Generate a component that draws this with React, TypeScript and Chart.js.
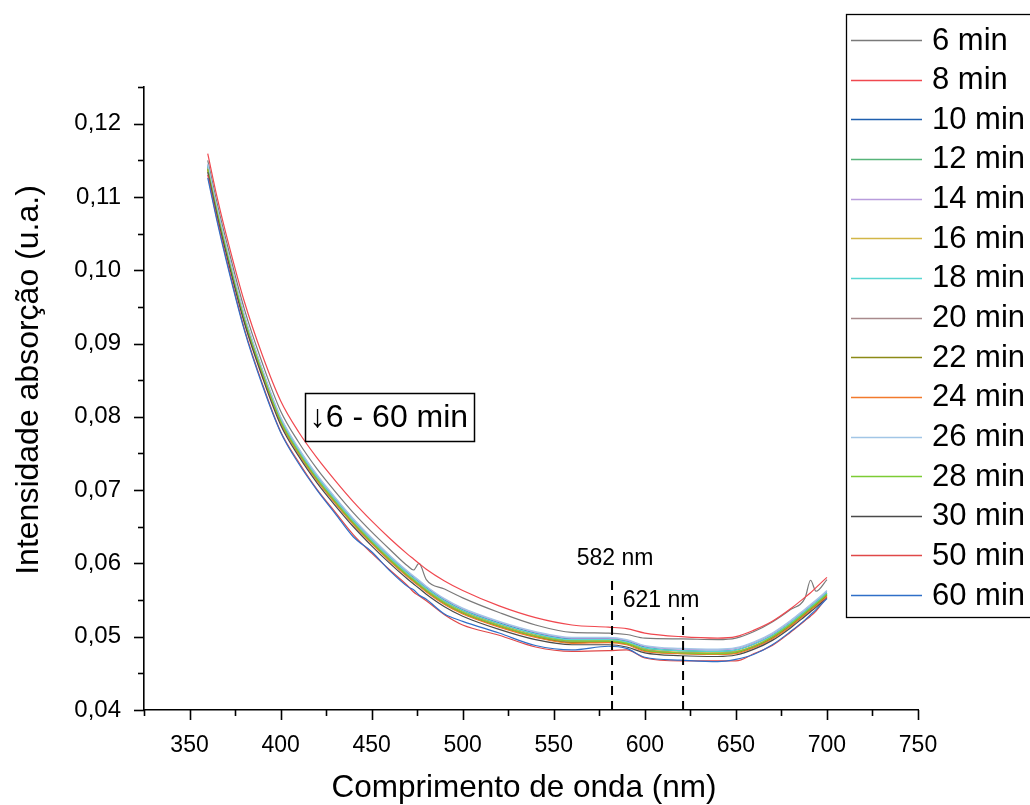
import { useEffect, useRef } from "react";
import { Chart, registerables } from "chart.js";

Chart.register(...registerables);

const FONT = "'Liberation Sans', Arial, Helvetica, sans-serif";

const wavelengths = [360, 365, 370, 380, 390, 400, 410, 420, 430, 440, 450, 460, 470, 473, 476, 480, 490, 500, 520, 540, 560, 580, 590, 600, 620, 640, 650, 660, 670, 680, 688, 691, 694, 700];

const seriesLabels = ["6 min", "8 min", "10 min", "12 min", "14 min", "16 min", "18 min", "20 min", "22 min", "24 min", "26 min", "28 min", "30 min", "50 min", "60 min"];

const seriesColors = ["#7a7a7a", "#f0484f", "#1f5fae", "#57b47a", "#b89cdc", "#d2b647", "#5ad6d2", "#a88a8c", "#8c8a16", "#f27a2c", "#a2c6e6", "#7ccc34", "#4a4a4a", "#e04848", "#2f6fc8"];

const min6 = [.1150, .1093, .1042, .0948, .0873, .0808, .0765, .0729, .0698, .0669, .0643, .0619, .0596, .0591, .0600, .0578, .0565, .0553, .0533, .0516, .0506, .0505, .0503, .0498, .0497, .0496, .0498, .0507, .0520, .0537, .0553, .0577, .0562, .0578];
const min8 = [.1159, .1101, .1050, .0958, .0884, .0822, .0779, .0744, .0713, .0684, .0658, .0634, .0612, .0606, .0600, .0592, .0576, .0563, .0542, .0526, .0516, .0513, .0511, .0505, .0500, .0498, .0500, .0509, .0521, .0538, .0554, .0560, .0567, .0581];
const min10 = [.1143, .1085, .1033, .0938, .0863, .0798, .0755, .0719, .0688, .0659, .0633, .0609, .0587, .0581, .0575, .0567, .0550, .0537, .0519, .0505, .0497, .0497, .0494, .0486, .0481, .0480, .0482, .0490, .0502, .0519, .0535, .0541, .0547, .0560];
const min12 = [.1141, .1083, .1031, .0936, .0861, .0796, .0753, .0717, .0686, .0657, .0631, .0607, .0585, .0579, .0573, .0565, .0548, .0535, .0517, .0503, .0495, .0496, .0493, .0484, .0481, .0479, .0480, .0487, .0499, .0516, .0532, .0538, .0544, .0557];
const min14 = [.1144, .1086, .1034, .0939, .0864, .0799, .0756, .0720, .0689, .0660, .0634, .0610, .0588, .0582, .0576, .0568, .0551, .0538, .0520, .0506, .0498, .0498, .0495, .0487, .0483, .0482, .0484, .0492, .0504, .0521, .0537, .0543, .0549, .0562];
const min16 = [.1140, .1082, .1030, .0935, .0860, .0795, .0752, .0716, .0685, .0656, .0630, .0606, .0584, .0578, .0572, .0564, .0547, .0534, .0516, .0502, .0494, .0495, .0492, .0483, .0479, .0478, .0480, .0488, .0500, .0517, .0533, .0539, .0545, .0558];
const min18 = [.1142, .1084, .1032, .0937, .0862, .0797, .0754, .0718, .0687, .0658, .0632, .0608, .0586, .0580, .0574, .0566, .0549, .0536, .0518, .0504, .0496, .0496, .0493, .0485, .0481, .0480, .0482, .0490, .0502, .0519, .0535, .0541, .0547, .0560];
const min20 = [.1139, .1081, .1029, .0934, .0859, .0794, .0751, .0715, .0684, .0655, .0629, .0605, .0583, .0577, .0571, .0563, .0546, .0533, .0515, .0501, .0493, .0493, .0490, .0482, .0478, .0477, .0479, .0487, .0499, .0516, .0532, .0538, .0544, .0557];
const min22 = [.1138, .1080, .1028, .0933, .0858, .0793, .0750, .0714, .0683, .0654, .0628, .0604, .0582, .0576, .0570, .0562, .0545, .0532, .0514, .0500, .0492, .0493, .0490, .0481, .0477, .0476, .0478, .0486, .0498, .0515, .0531, .0537, .0543, .0556];
const min24 = [.1137, .1079, .1027, .0932, .0857, .0792, .0749, .0713, .0682, .0653, .0627, .0603, .0581, .0575, .0569, .0561, .0544, .0531, .0513, .0499, .0491, .0492, .0489, .0480, .0477, .0476, .0477, .0485, .0497, .0514, .0530, .0536, .0542, .0555];
const min26 = [.1145, .1087, .1035, .0940, .0865, .0800, .0757, .0721, .0690, .0661, .0635, .0611, .0589, .0583, .0577, .0569, .0552, .0539, .0521, .0507, .0499, .0499, .0496, .0488, .0484, .0483, .0485, .0493, .0505, .0522, .0538, .0544, .0550, .0563];
const min28 = [.1138, .1081, .1029, .0934, .0860, .0794, .0751, .0715, .0684, .0655, .0629, .0605, .0583, .0577, .0571, .0563, .0546, .0533, .0515, .0501, .0494, .0494, .0491, .0482, .0478, .0477, .0479, .0487, .0500, .0517, .0533, .0539, .0545, .0558];
const min30 = [.1134, .1076, .1024, .0929, .0854, .0789, .0746, .0710, .0679, .0650, .0624, .0600, .0578, .0572, .0566, .0558, .0541, .0528, .0510, .0496, .0489, .0489, .0486, .0478, .0474, .0473, .0475, .0483, .0495, .0512, .0528, .0534, .0540, .0553];
const min50 = [.1130, .1071, .1018, .0921, .0845, .0780, .0738, .0701, .0670, .0639, .0614, .0591, .0569, .0561, .0556, .0549, .0530, .0516, .0502, .0486, .0480, .0481, .0482, .0471, .0467, .0467, .0467, .0477, .0488, .0506, .0522, .0528, .0535, .0554];
const min60 = [.1126, .1068, .1015, .0919, .0843, .0779, .0736, .0700, .0668, .0636, .0616, .0590, .0568, .0564, .0557, .0551, .0531, .0521, .0505, .0488, .0482, .0487, .0484, .0472, .0468, .0466, .0469, .0476, .0489, .0507, .0523, .0530, .0537, .0552];

const seriesValues = [min6, min8, min10, min12, min14, min16, min18, min20, min22, min24, min26, min28, min30, min50, min60];

const xMajorTicks = [350, 400, 450, 500, 550, 600, 650, 700, 750];
const xMinorTicks = [325, 375, 425, 475, 525, 575, 625, 675, 725];
const yMajorTicks = [0.04, 0.05, 0.06, 0.07, 0.08, 0.09, 0.10, 0.11, 0.12];
const yMinorTicks = [0.045, 0.055, 0.065, 0.075, 0.085, 0.095, 0.105, 0.115, 0.125];

const xTitle = "Comprimento de onda (nm)";
const yTitle = "Intensidade absorção (u.a.)";
const markerWavelengths = [582, 621];
const markerTops = [0.0584, 0.0527];
const markerLabels = ["582 nm", "621 nm"];
const annotationText = "\u21936 - 60 min";

const decorPlugin = {
  id: "decor",
  afterDraw(chart: any) {
    const ctx = chart.ctx as CanvasRenderingContext2D;
    const xs = chart.scales.x;
    const ys = chart.scales.y;
    const area = chart.chartArea;
    ctx.save();
    ctx.strokeStyle = "#000";
    ctx.lineWidth = 1.6;
    const seg = (x1: number, y1: number, x2: number, y2: number) => {
      ctx.beginPath();
      ctx.moveTo(x1, y1);
      ctx.lineTo(x2, y2);
      ctx.stroke();
    };
    xMajorTicks.forEach((v) => {
      const p = Math.round(xs.getPixelForValue(v)) + 0.5;
      seg(p, area.bottom, p, area.bottom + 10);
    });
    xMinorTicks.forEach((v) => {
      const p = Math.round(xs.getPixelForValue(v)) + 0.5;
      seg(p, area.bottom, p, area.bottom + 6);
    });
    yMajorTicks.forEach((v) => {
      const p = Math.round(ys.getPixelForValue(v)) + 0.5;
      seg(area.left - 10, p, area.left, p);
    });
    yMinorTicks.forEach((v) => {
      const p = Math.round(ys.getPixelForValue(v)) + 0.5;
      seg(area.left - 6, p, area.left, p);
    });

    // axis titles
    ctx.fillStyle = "#000";
    ctx.textAlign = "center";
    ctx.textBaseline = "middle";
    ctx.font = `31.5px ${FONT}`;
    ctx.fillText(xTitle, 524, 788);
    ctx.save();
    ctx.translate(29, 380);
    ctx.rotate(-Math.PI / 2);
    ctx.font = `32px ${FONT}`;
    ctx.fillText(yTitle, 0, 0);
    ctx.restore();

    // dashed marker lines
    const labelDx = [3, -22];
    ctx.lineWidth = 2;
    ctx.setLineDash([9, 6]);
    markerWavelengths.forEach((w, i) => {
      const px = xs.getPixelForValue(w);
      const top = ys.getPixelForValue(markerTops[i]);
      seg(px, area.bottom, px, top);
    });
    ctx.setLineDash([]);
    ctx.font = `23px ${FONT}`;
    markerWavelengths.forEach((w, i) => {
      const px = xs.getPixelForValue(w);
      const top = ys.getPixelForValue(markerTops[i]);
      ctx.fillText(markerLabels[i], px + labelDx[i], top - 16);
    });

    // annotation box
    ctx.lineWidth = 1.5;
    ctx.strokeRect(305.5, 393.5, 169, 48);
    ctx.font = `32px ${FONT}`;
    ctx.fillText(annotationText, 389, 418);

    // legend
    ctx.lineWidth = 1.3;
    ctx.strokeStyle = "#000";
    ctx.strokeRect(846.5, 14.5, 250, 603);
    ctx.font = `31px ${FONT}`;
    ctx.textAlign = "left";
    seriesLabels.forEach((lab, i) => {
      const cy = 40 + i * 39.65;
      ctx.strokeStyle = seriesColors[i];
      ctx.lineWidth = 1.3;
      seg(851, Math.round(cy) + 0.5, 922, Math.round(cy) + 0.5);
      ctx.fillStyle = "#000";
      ctx.fillText(lab, 932, cy + 1);
    });
    ctx.restore();
  },
};

export default function App() {
  const ref = useRef<HTMLCanvasElement | null>(null);
  useEffect(() => {
    if (!ref.current) return;
    const datasets = seriesValues.map((vals, i) => ({
      label: seriesLabels[i],
      data: vals.map((v, j) => ({ x: wavelengths[j], y: v })),
      borderColor: seriesColors[i],
      backgroundColor: seriesColors[i],
      borderWidth: 1.2,
      pointRadius: 0,
      fill: false,
      cubicInterpolationMode: "monotone" as const,
      order: -i,
    }));
    const chart = new Chart(ref.current, {
      type: "line",
      data: { datasets },
      options: {
        responsive: false,
        animation: false,
        devicePixelRatio: 1,
        layout: { padding: { top: 87, right: 112, left: 0, bottom: 0 } },
        plugins: { legend: { display: false }, tooltip: { enabled: false } },
        scales: {
          x: {
            type: "linear",
            min: 325,
            max: 750,
            grid: { display: false },
            border: { display: true, color: "#000", width: 1.6 },
            ticks: {
              padding: 14,
              color: "#000",
              autoSkip: false,
              maxRotation: 0,
              font: { family: FONT, size: 23 },
              callback: (v: any) => String(v),
            },
            afterBuildTicks: (s: any) => {
              s.ticks = xMajorTicks.map((v) => ({ value: v }));
            },
            afterFit: (s: any) => {
              s.height = 95;
            },
            title: { display: false },
          },
          y: {
            type: "linear",
            min: 0.04,
            max: 0.125,
            grid: { display: false },
            border: { display: true, color: "#000", width: 1.6 },
            ticks: {
              padding: 15,
              color: "#000",
              autoSkip: false,
              font: { family: FONT, size: 24 },
              callback: (v: any) => Number(v).toFixed(2).replace(".", ","),
            },
            afterBuildTicks: (s: any) => {
              s.ticks = yMajorTicks.map((v) => ({ value: v }));
            },
            afterFit: (s: any) => {
              s.width = 144;
            },
            title: { display: false },
          },
        },
      },
      plugins: [decorPlugin],
    });
    return () => chart.destroy();
  }, []);
  return (
    <div style={{ position: "fixed", left: 0, top: 0, width: 1030, height: 805, background: "#fff" }}>
      <canvas ref={ref} width={1030} height={805} />
    </div>
  );
}
